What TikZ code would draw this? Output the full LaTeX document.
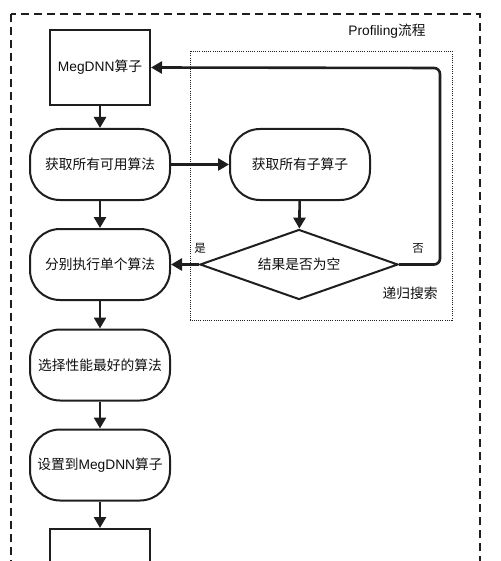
\documentclass[tikz,border=0pt]{standalone}
\usepackage{fontspec}
\setmainfont{Noto Sans CJK SC}
\newfontfamily\latfont{Liberation Sans}
\usetikzlibrary{arrows.meta,shapes.geometric}
\definecolor{line_gray}{RGB}{30,30,30}
\definecolor{text_gray}{RGB}{15,15,15}

\begin{document}
\begin{tikzpicture}[x=1pt,y=-1pt,->,>={Triangle[length=11pt,width=12pt]},line width=2.6pt,draw=line_gray]
    \tikzstyle{opbox}=[draw=line_gray, line width=2pt, rectangle, minimum width=100pt, minimum height=75pt, inner sep=0pt, text=text_gray, font=\fontsize{13.75}{15}\selectfont]
    \tikzstyle{stepround}=[draw=line_gray, line width=2pt, rectangle, rounded corners=30pt, minimum width=140pt, minimum height=71pt, inner sep=0pt, text=text_gray, font=\fontsize{13.75}{15}\selectfont]
    \tikzstyle{decision}=[draw=line_gray, line width=2pt, diamond, aspect=2.83, minimum width=198pt, minimum height=70pt, inner sep=0pt, text=text_gray, font=\fontsize{13.75}{15}\selectfont]
    \tikzstyle{note}=[text=text_gray, inner sep=0pt, font=\fontsize{13.75}{15}\selectfont]
    \tikzstyle{yesno}=[text=text_gray, inner sep=0pt, font=\fontsize{11.5}{13}\selectfont]

    \useasboundingbox (0,0) rectangle (500,561);
    \fill[white] (0,0) rectangle (500,561);

    % frames
    \draw[-,line width=1.2pt,dash pattern=on 8pt off 5pt] (11,14) rectangle (480,620);
    \draw[-,line width=0.8pt,dash pattern=on 1pt off 1.2pt] (190,51) rectangle (452,320);
    \node[note] (profTitle) at (387,31) {{\latfont Profiling}流程};
    \node[note] (searchTitle) at (410,293) {递归搜索};

    % main column
    \node[opbox]     (MegBox)     at (100,67.5) {{\latfont MegDNN}算子};
    \node[stepround] (getAll)     at (100,164.5) {获取所有可用算法};
    \node[stepround] (runEach)    at (100,264.5) {分别执行单个算法};
    \node[stepround] (chooseBest) at (100,365) {选择性能最好的算法};
    \node[stepround] (setBack)    at (100,465) {设置到{\latfont MegDNN}算子};
    \node[opbox]     (endBox)     at (100,566.5) {};

    % recursive search
    \node[stepround] (getSub)     at (300,164.5) {获取所有子算子};
    \node[decision]  (isEmpty)    at (299,264.5) {结果是否为空};
    \coordinate (loopTop) at (440,68);

    \node[yesno] (yesLabel) at (200,248) {是};
    \node[yesno] (noLabel)  at (418,248) {否};

    \path
     (MegBox)     edge[] (getAll)
     (getAll)     edge[] (runEach)
     (runEach)    edge[] (chooseBest)
     (chooseBest) edge[] (setBack)
     (setBack)    edge[] (endBox)
     (getAll)     edge[] (getSub)
     (getSub)     edge[] (isEmpty)
     (isEmpty.west) edge[] (runEach.east)
     ;
    \draw[rounded corners=6pt] (isEmpty.east) -| (loopTop) -- (MegBox.east);
\end{tikzpicture}
\end{document}
